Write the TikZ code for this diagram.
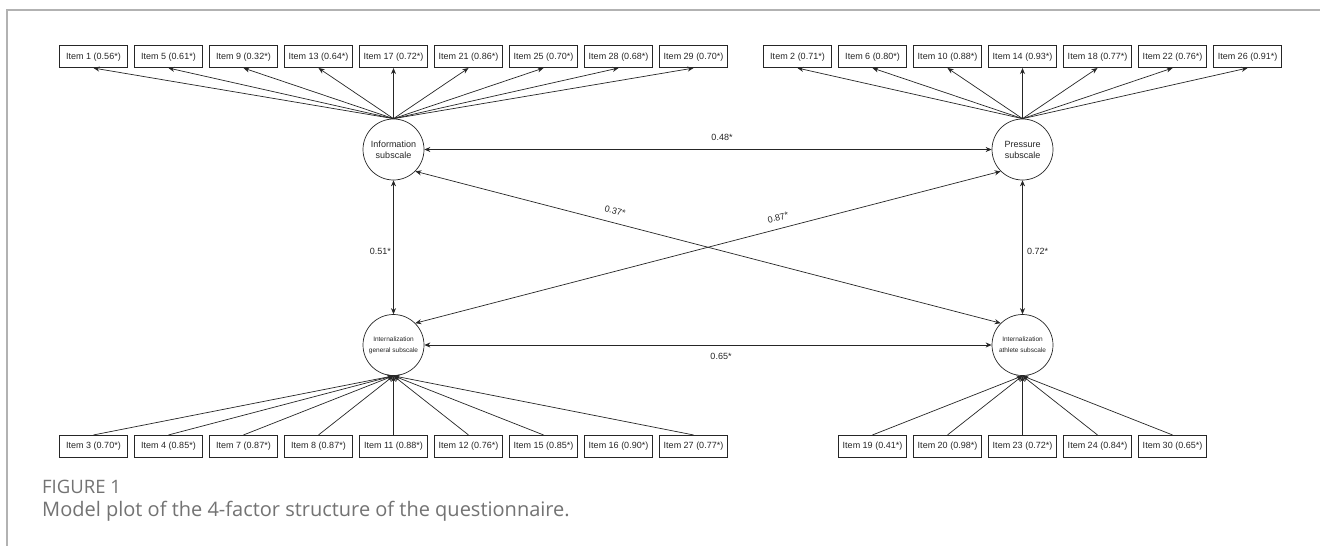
\documentclass[tikz,border=0pt]{standalone}
\usepackage{fontspec}
\setmainfont{Liberation Sans}
\newfontfamily\capfont{Open Sans}
\usetikzlibrary{arrows.meta}
\begin{document}
\begin{tikzpicture}[x=1pt,y=-1pt,
  item/.style={draw=black!85, line width=0.7pt, minimum width=68pt, minimum height=22pt, inner sep=0pt, font=\fontsize{9}{10}\selectfont, text=black!85},
  latent/.style={draw=black!85, line width=0.7pt, circle, minimum size=61pt, inner sep=0pt, align=center, text=black!85},
  conn/.style={line width=0.7pt, draw=black!85},
  tip/.style={-{Stealth[length=6pt,width=5pt]}},
  both/.style={{Stealth[length=6pt,width=5pt]}-{Stealth[length=6pt,width=5pt]}},
  coef/.style={font=\fontsize{9}{10}\selectfont, text=black!85, inner sep=0pt},
]
\useasboundingbox (0,0) rectangle (1320,546);
\fill[white] (0,0) rectangle (1320,546);
\draw[black!30, line width=1.2pt] (7,546) -- (7,10) -- (1320,10);

% latent factors
\node[latent, font=\fontsize{9}{11}\selectfont] (info) at (393.5,149.5) {Information\\subscale};
\node[latent, font=\fontsize{9}{11}\selectfont] (press) at (1022.5,149.5) {Pressure\\subscale};
\node[latent, font=\fontsize{6.5}{11}\selectfont] (gen) at (393.5,345) {Internalization\\general subscale};
\node[latent, font=\fontsize{6.5}{11}\selectfont] (athl) at (1022.5,345) {Internalization\\athlete subscale};

% items: information
\foreach \n/\v [count=\i from 0] in {1/0.56,5/0.61,9/0.32,13/0.64,17/0.72,21/0.86,25/0.70,28/0.68,29/0.70}{
  \node[item] (i\n) at (93.5+75*\i,56.7) {Item \n\ (\v*)};
  \draw[conn,tip] (info.north) -- (i\n.south);
}
% items: pressure
\foreach \n/\v [count=\i from 0] in {2/0.71,6/0.80,10/0.88,14/0.93,18/0.77,22/0.76,26/0.91}{
  \node[item] (i\n) at (797.5+75*\i,56.7) {Item \n\ (\v*)};
  \draw[conn,tip] (press.north) -- (i\n.south);
}
% items: internalization general
\foreach \n/\v [count=\i from 0] in {3/0.70,4/0.85,7/0.87,8/0.87,11/0.88,12/0.76,15/0.85,16/0.90,27/0.77}{
  \node[item] (i\n) at (93.5+75*\i,446.3) {Item \n\ (\v*)};
  \ifnum\n=16\relax\else\draw[conn,tip] (i\n.north) -- (gen.south);\fi
}
% items: internalization athlete
\foreach \n/\v [count=\i from 0] in {19/0.41,20/0.98,23/0.72,24/0.84,30/0.65}{
  \node[item] (i\n) at (872.5+75*\i,446.3) {Item \n\ (\v*)};
  \draw[conn,tip] (i\n.north) -- (athl.south);
}

% correlations
\draw[conn,both] (info.east) -- (press.west);
\node[coef] (c48) at (722,137) {0.48*};
\draw[conn,both] (info.south) -- (gen.north);
\node[coef, anchor=east] (c51) at (391,251) {0.51*};
\draw[conn,both] (press.south) -- (athl.north);
\node[coef, anchor=west] (c72) at (1027,251) {0.72*};
\draw[conn,both] (gen.east) -- (athl.west);
\node[coef] (c65) at (721,356) {0.65*};
\draw[conn,both] (info.south east) -- (athl.north west);
\node[coef, rotate=-14.5] (c37) at (615,211) {0.37*};
\draw[conn,both] (press.south west) -- (gen.north east);
\node[coef, rotate=14.5] (c87) at (778,217.5) {0.87*};

% caption
\node[anchor=base west, inner sep=0pt, font=\capfont\fontsize{18.5}{20}\selectfont, text=black!55] (figlabel) at (42,493) {FIGURE 1};
\node[anchor=base west, inner sep=0pt, font=\capfont\fontsize{20}{24}\selectfont, text=black!55] (caption) at (42,516.7) {Model plot of the 4-factor structure of the questionnaire.};
\end{tikzpicture}
\end{document}
